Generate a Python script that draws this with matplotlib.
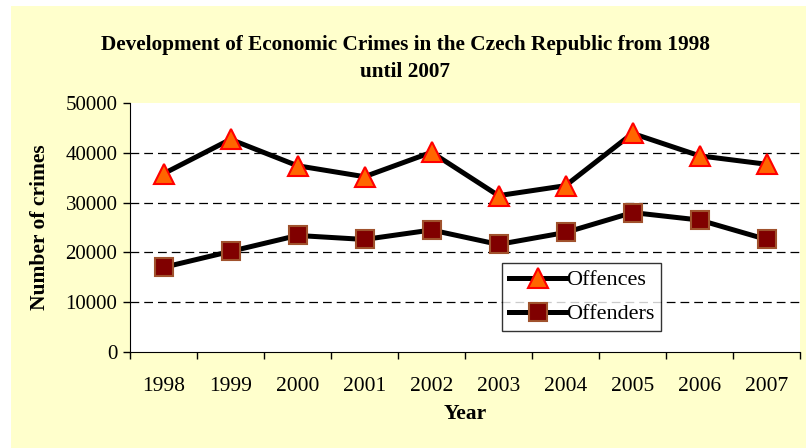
import numpy as np
import matplotlib
matplotlib.use('Agg')
from matplotlib import pyplot as plt
from matplotlib.patches import Rectangle

# Data
years = ['1998', '1999', '2000', '2001', '2002', '2003', '2004', '2005', '2006', '2007']
offences = [35800, 42700, 37400, 35200, 40100, 31400, 33400, 43900, 39400, 37700]
offenders = [17000, 20200, 23400, 22600, 24500, 21600, 24000, 28000, 26500, 22600]
y_ticks = [0, 10000, 20000, 30000, 40000, 50000]

plt.rcParams['font.family'] = ['Liberation Serif', 'DejaVu Serif']

fig = plt.figure(figsize=(8.06, 4.48), dpi=100)
fig.patch.set_facecolor('white')
#Pale yellow chart area, slightly inset from the top-left
fig.patches.append(Rectangle((11 / 806, 0), 1, 442 / 448, transform=fig.transFigure,
                             facecolor='#FFFFCC', edgecolor='none', zorder=-10))

ax = fig.add_axes([130 / 806, 96 / 448, 670 / 806, 249 / 448])
ax.set_facecolor('white')

x = np.arange(len(years))
ax.plot(x, offences, color='black', lw=3.6, marker='^', markersize=14.5,
        markerfacecolor='#FF6600', markeredgecolor='#FF0000', markeredgewidth=1.5,
        label='Offences', zorder=3)
ax.plot(x, offenders, color='black', lw=3.6, marker='s', markersize=13.5,
        markerfacecolor='#800000', markeredgecolor='#A0522D', markeredgewidth=1.5,
        label='Offenders', zorder=3)

ax.set_xlim(-0.5, len(years) - 0.5)
ax.set_ylim(0, 50000)
ax.set_yticks(y_ticks)
ax.set_xticks(x)
ax.set_xticklabels(years)
ax.set_xticks(np.arange(-0.5, len(years)), minor=True)
ax.tick_params(axis='x', which='major', length=0, pad=18, labelsize=15.5)
ax.tick_params(axis='x', which='minor', length=5, width=1, direction='out')
ax.tick_params(axis='y', length=5, width=1, labelsize=15, pad=4)

#Dashed horizontal gridlines
for v in y_ticks[1:-1]:
    ax.axhline(v, color='black', lw=0.9, dashes=(7, 4), zorder=1)

ax.spines['top'].set_visible(False)
ax.spines['right'].set_visible(False)

ax.set_xlabel('Year', fontsize=15.5, fontweight='bold', labelpad=6)
ax.set_ylabel('Number of crimes', fontsize=15.5, fontweight='bold', labelpad=11)

fig.text(0.503, 0.900, 'Development of Economic Crimes in the Czech Republic from 1998',
         ha='center', va='center', fontsize=15.3, fontweight='bold')
fig.text(0.503, 0.840, 'until 2007', ha='center', va='center', fontsize=15.3, fontweight='bold')

leg = ax.legend(loc='lower left', bbox_to_anchor=(372 / 670, 21 / 249), frameon=True,
                fancybox=False, edgecolor='black', fontsize=16, handlelength=2.6,
                borderpad=0.3, labelspacing=0.6, handletextpad=0.0, borderaxespad=0)
leg.get_frame().set_linewidth(1)

fig.savefig('out.png', dpi=100)
